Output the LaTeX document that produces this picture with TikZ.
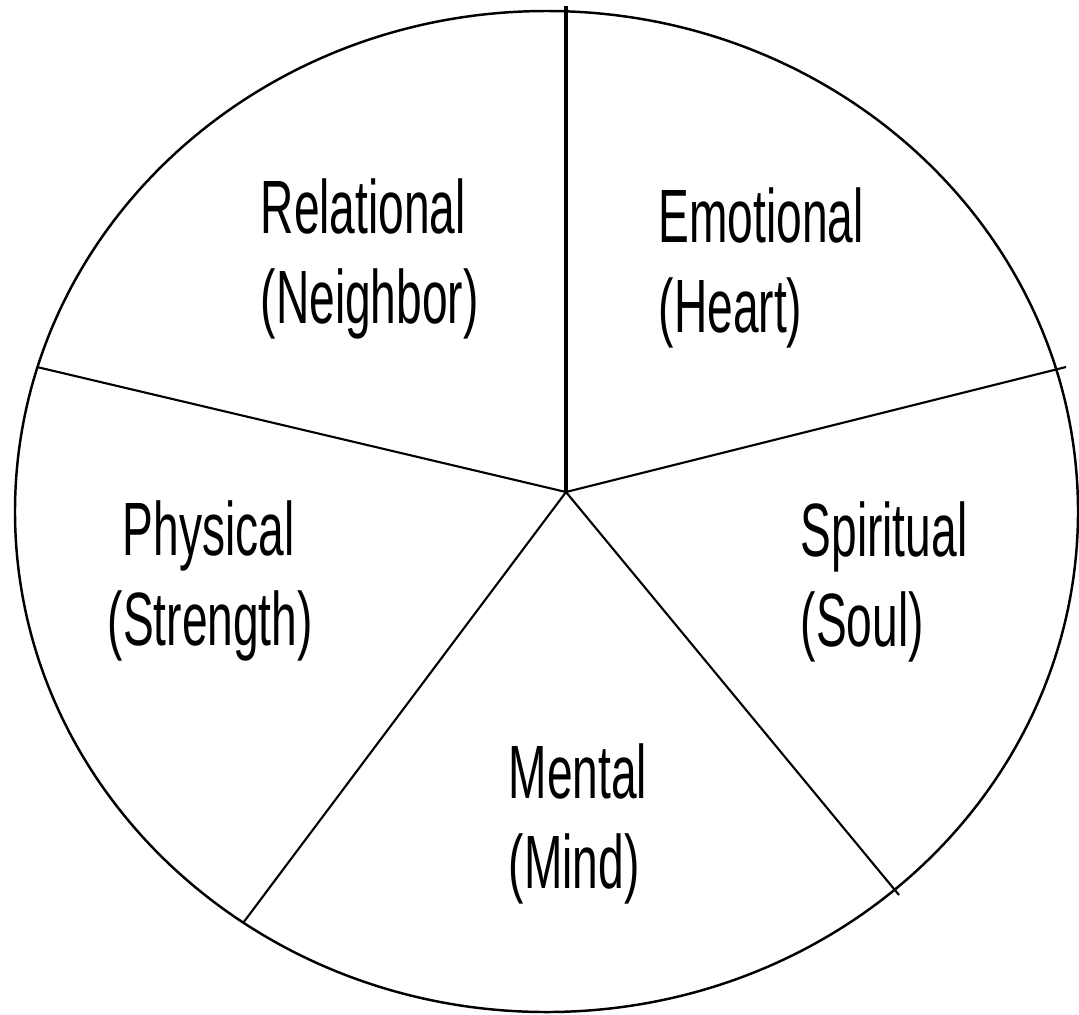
\documentclass[tikz,border=0pt]{standalone}
\usepackage{fontspec}
\usepackage{tikz}
\newfontfamily\slicefont[FakeStretch=0.61]{Liberation Sans}

\begin{document}
\begin{tikzpicture}[x=0.01cm, y=-0.01cm]
    % --- GLOBAL DEFINITIONS ---
    \def\cx{546.5} % Ellipse centre
    \def\cy{511.5}
    \def\rx{531.5} % Ellipse radii
    \def\ry{500.5}

    \tikzset{
        rim/.style={draw=black, line width=0.7pt},
        spoke/.style={draw=black, line width=0.6pt},
        mainspoke/.style={draw=black, line width=1.1pt},
        slicelabel/.style={anchor=north west, inner sep=0pt, align=left,
            font=\slicefont\fontsize{21.5}{25.6}\selectfont}
    }

    % Fixed margins
    \useasboundingbox (0,0) rectangle (1079,1014);

    % Outer rim
    \draw[rim] (\cx,\cy) ellipse [x radius=\rx, y radius=\ry];

    % Spokes
    \coordinate (hub) at (566,492);
    \coordinate (top) at (566,6);
    \coordinate (right) at (1066,367);
    \coordinate (lowright) at (899,895);
    \coordinate (lowleft) at (243,923);
    \coordinate (left) at (37,367);
    \draw[mainspoke] (hub) -- (top);
    \draw[spoke] (hub) -- (right);
    \draw[spoke] (hub) -- (lowright);
    \draw[spoke] (hub) -- (lowleft);
    \draw[spoke] (hub) -- (left);

    % Slice labels
    \node[slicelabel] (relational) at (260,178) {Relational\\(Neighbor)};
    \node[slicelabel] (emotional) at (658,187) {Emotional\\(Heart)};
    \node[slicelabel] (physical) at (107,500) {\hspace*{0.15cm}Physical\\(Strength)};
    \node[slicelabel] (spiritual) at (800,501) {Spiritual\\(Soul)};
    \node[slicelabel] (mental) at (508,743) {Mental\\(Mind)};
\end{tikzpicture}
\end{document}
